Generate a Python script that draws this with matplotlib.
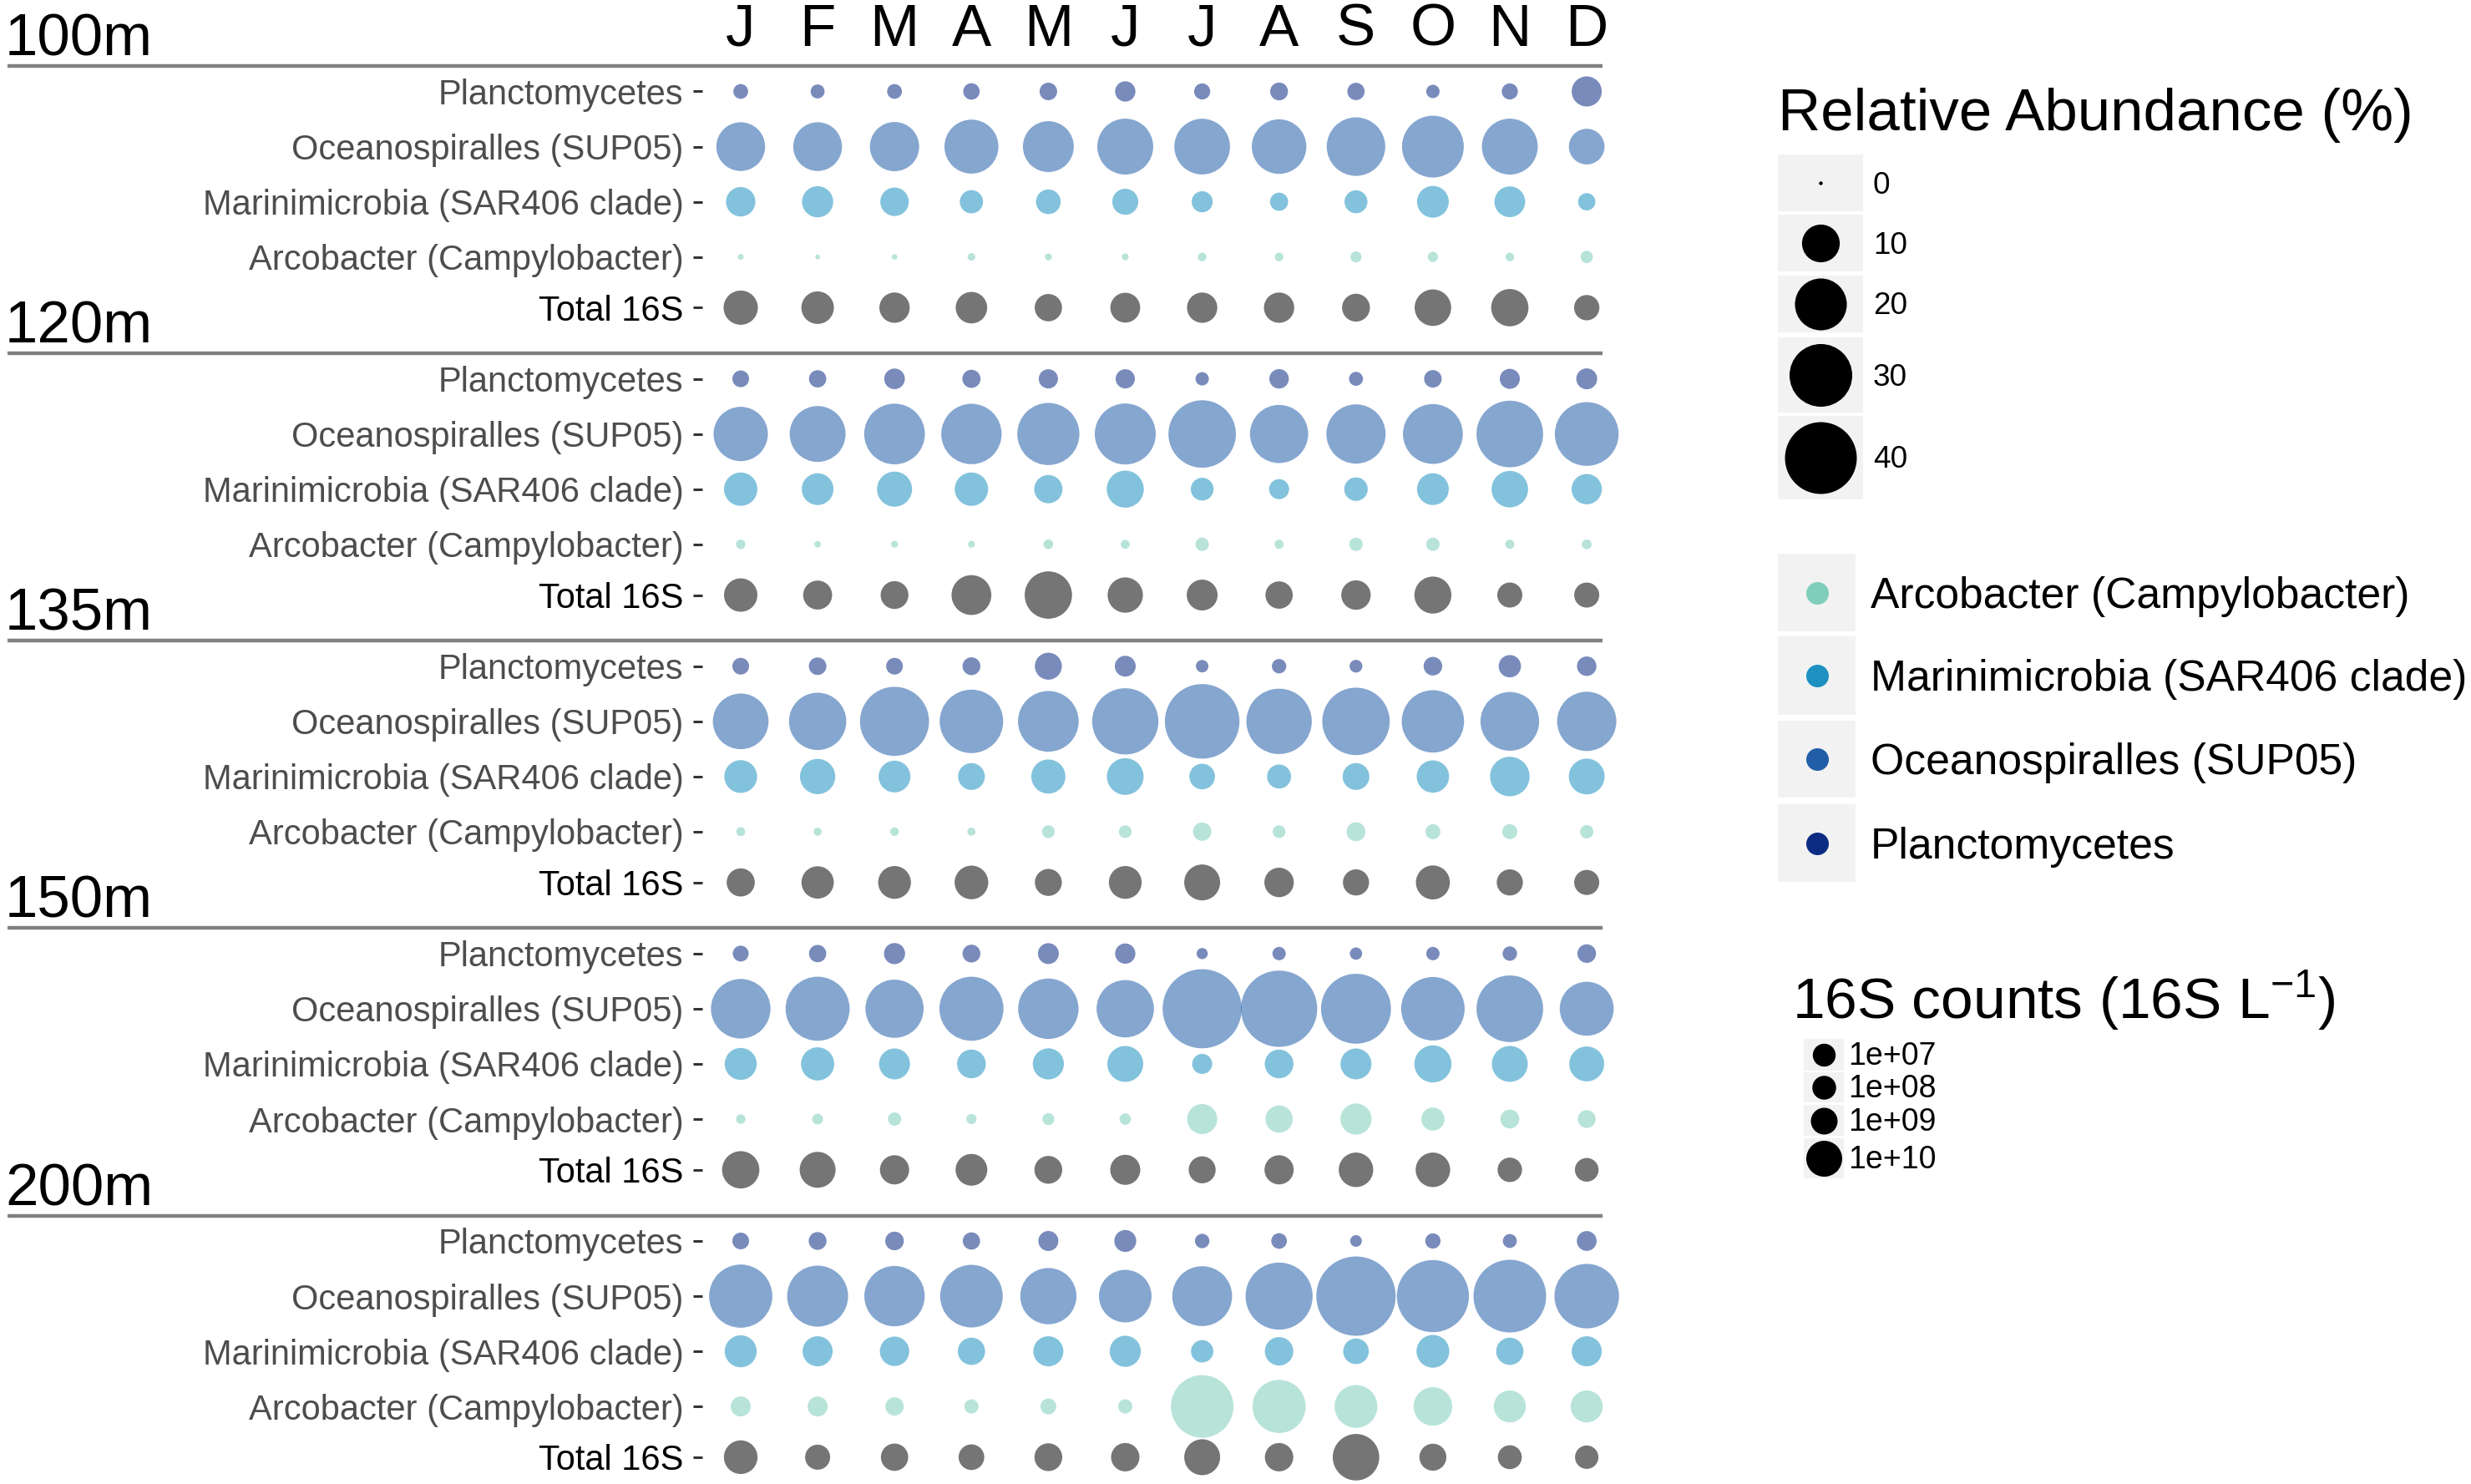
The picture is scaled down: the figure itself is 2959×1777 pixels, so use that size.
import numpy as np
import matplotlib
matplotlib.use('Agg')
import matplotlib.pyplot as plt
from matplotlib.patches import Rectangle
from matplotlib.transforms import blended_transform_factory

# データ
months = ['J', 'F', 'M', 'A', 'M', 'J', 'J', 'A', 'S', 'O', 'N', 'D']
depths = ['100m', '120m', '135m', '150m', '200m']
taxa = ['Planctomycetes', 'Oceanospiralles (SUP05)',
        'Marinimicrobia (SAR406 clade)', 'Arcobacter (Campylobacter)']
taxa_colors = ['#0c2c84', '#225ea8', '#1d91c0', '#7fcdbb']

# 相対存在量 (%)  行 = 深度, 列 = 月
plancto = [
    [1.06, 0.91, 1.06, 1.41, 1.66, 2.38, 1.33, 1.72, 1.60, 0.81, 1.33, 6.0],
    [1.46, 1.6, 2.48, 1.8, 2.08, 2.08, 0.81, 2.15, 0.91, 1.66, 2.31, 2.55],
    [1.46, 1.66, 1.46, 1.72, 4.68, 2.55, 0.67, 1.0, 0.71, 1.92, 2.99, 2.15],
    [1.28, 1.6, 2.62, 1.72, 2.55, 2.38, 0.48, 0.81, 0.64, 0.81, 1.0, 1.92],
    [1.46, 1.72, 1.92, 1.6, 2.3, 2.88, 1.0, 1.23, 0.55, 1.16, 0.91, 2.24],
]
sup05 = [
    [17.5, 17.5, 17.9, 21.8, 19.2, 23.5, 23.3, 22.3, 25.9, 29.1, 23.5, 8.8],
    [22.1, 23.5, 28.0, 27.7, 29.4, 28.3, 35.0, 25.6, 26.6, 27.2, 34.1, 31.1],
    [23.3, 24.8, 36.8, 30.8, 28.0, 33.7, 43.3, 32.8, 35.0, 29.7, 26.1, 26.6],
    [26.9, 31.4, 25.6, 31.4, 27.7, 24.8, 49.0, 45.4, 37.8, 30.8, 34.1, 21.8],
    [30.5, 28.3, 27.7, 29.9, 23.8, 20.6, 27.2, 34.6, 49.3, 40.3, 41.0, 31.9],
]
sar406 = [
    [5.7, 6.5, 5.3, 3.3, 3.8, 4.3, 2.6, 1.8, 3.2, 6.8, 6.3, 1.6],
    [7.6, 6.8, 8.5, 7.6, 5.2, 9.6, 3.15, 2.3, 3.4, 6.8, 9.3, 6.1],
    [7.3, 8.6, 6.8, 4.6, 8.0, 9.4, 4.15, 3.55, 4.6, 7.1, 11.1, 8.9],
    [6.9, 7.5, 6.4, 5.4, 6.5, 8.95, 2.3, 5.4, 6.4, 9.6, 8.95, 8.4],
    [6.9, 6.0, 5.7, 4.8, 6.0, 6.5, 3.0, 5.3, 4.15, 7.3, 4.8, 6.0],
]
arco = [
    [0.04, 0.01, 0.03, 0.13, 0.09, 0.09, 0.21, 0.21, 0.48, 0.37, 0.21, 0.64],
    [0.29, 0.07, 0.09, 0.09, 0.32, 0.24, 0.81, 0.26, 0.81, 0.81, 0.26, 0.32],
    [0.24, 0.17, 0.21, 0.17, 0.71, 0.71, 1.86, 0.71, 2.0, 1.11, 1.11, 0.81],
    [0.29, 0.44, 0.81, 0.37, 0.59, 0.52, 6.0, 4.8, 6.5, 3.26, 2.0, 1.72],
    [2.3, 2.3, 1.86, 0.95, 1.28, 0.95, 29.9, 21.1, 13.2, 10.5, 6.9, 6.9],
]
# 16S counts (16S L-1)
total16s = [
    [7.7e9, 5.6e9, 3.4e9, 4.5e9, 1.3e9, 3.0e9, 3.4e9, 3.4e9, 1.6e9, 10.9e9, 12.2e9, 0.45e9],
    [6.6e9, 2.35e9, 1.58e9, 16.7e9, 34.3e9, 9.1e9, 3.9e9, 1.3e9, 2.7e9, 11.7e9, 0.37e9, 0.37e9],
    [1.78e9, 5.4e9, 5.9e9, 6.9e9, 1.12e9, 5.9e9, 10.0e9, 2.7e9, 0.75e9, 7.35e9, 0.75e9, 0.37e9],
    [12.2e9, 10.0e9, 2.5e9, 4.75e9, 1.58e9, 3.2e9, 1.12e9, 2.5e9, 8.0e9, 8.0e9, 0.22e9, 0.08e9],
    [6.9e9, 0.37e9, 1.3e9, 0.56e9, 1.58e9, 1.94e9, 10.0e9, 1.94e9, 32.0e9, 1.12e9, 0.12e9, 0.05e9],
]
ra_breaks = [0, 10, 20, 30, 40]
count_breaks = [1e7, 1e8, 1e9, 1e10]

W, H, DPI = 2959, 1777, 200
plt.rcParams['font.family'] = ['Liberation Sans', 'DejaVu Sans']
plt.rcParams['mathtext.fontset'] = 'custom'
plt.rcParams['mathtext.rm'] = 'Liberation Sans'
plt.rcParams['mathtext.default'] = 'rm'


# サイズのスケール（直径 px）
def ra_px(v):
    return 4.4 + 81.6 * np.sqrt(np.asarray(v, dtype=float) / 40)


def count_px(v):
    return 26.9 + 16.1 * np.sqrt(np.asarray(v, dtype=float) / 1e10)


def area(px):
    return (np.asarray(px) * 72 / DPI) ** 2


fig = plt.figure(figsize=(W / DPI, H / DPI), dpi=DPI)

# 行の位置
first_row_px = 109.5
row_px = 66.05
panel_gap = 5.21
row_off = [0, 1, 2, 3, 3.92]

ax = fig.add_axes([0.2842, 0, 0.3735, 1])
ax.set_xlim(-0.5, 11.5)
ax.set_ylim((H - first_row_px) / row_px, -first_row_px / row_px)
for s in ax.spines.values():
    s.set_visible(False)
ax.set_xticks([])

x = np.arange(12)
yt, yl = [], []
for p, depth in enumerate(depths):
    base = p * panel_gap
    series = [plancto[p], sup05[p], sar406[p], arco[p]]
    for r, (vals, col) in enumerate(zip(series, taxa_colors)):
        y = base + row_off[r]
        ax.scatter(x, np.full(12, y), s=area(ra_px(vals)), color=col, alpha=0.55,
                   linewidths=0, clip_on=False, zorder=3)
        yt.append(y)
        yl.append(taxa[r])
    y = base + row_off[4]
    ax.scatter(x, np.full(12, y), s=area(count_px(total16s[p])), color='black', alpha=0.54,
               linewidths=0, clip_on=False, zorder=3)
    yt.append(y)
    yl.append('Total 16S')

    # 深度の区切り線とラベル
    line_y = base - 0.46
    tr = blended_transform_factory(fig.transFigure, ax.transData)
    ax.plot([0.003, 0.6486], [line_y, line_y], transform=tr, color='#808080', lw=1.6,
            clip_on=False, solid_capstyle='butt')
    ax.text(0.002, line_y - 0.19, depth, transform=tr, fontsize=25.5, ha='left', va='baseline',
            color='black')

ax.set_yticks(yt)
ax.set_yticklabels(yl)
ax.tick_params(axis='y', length=4.1, width=1.1, color='#333333', pad=4, labelsize=15)
for lab in ax.get_yticklabels():
    lab.set_color('black' if lab.get_text() == 'Total 16S' else '#4d4d4d')

# 月のラベル
for i, m in enumerate(months):
    ax.text(i, -0.83, m, fontsize=25.5, ha='center', va='baseline')

# 凡例（px 座標）
lax = fig.add_axes([0, 0, 1, 1])
lax.set_xlim(0, W)
lax.set_ylim(H, 0)
lax.axis('off')
lax.patch.set_visible(False)

lax.text(2129, 138, 'Relative Abundance (%)', fontsize=25.5, ha='left', va='center')
ra_boxes = [(185, 253), (257, 325), (330, 398), (404, 494), (498, 598)]
for (y0, y1), b in zip(ra_boxes, ra_breaks):
    lax.add_patch(Rectangle((2129, y0), 102, y1 - y0, color='#f2f2f2', lw=0))
    yc = (y0 + y1) / 2
    lax.scatter([2180], [yc], s=area(ra_px(b)), color='black', linewidths=0)
    lax.text(2243, yc + 3, str(b), fontsize=13.3, ha='left', va='center')

col_boxes = [(663, 756), (762, 856), (863, 955), (963, 1056)]
leg_names = taxa[::-1]
leg_cols = taxa_colors[::-1]
for (y0, y1), name, col in zip(col_boxes, leg_names, leg_cols):
    lax.add_patch(Rectangle((2129, y0), 93, y1 - y0, color='#f2f2f2', lw=0))
    yc = (y0 + y1) / 2
    lax.scatter([2176], [yc], s=area(27), color=col, linewidths=0)
    lax.text(2240, yc + 5, name, fontsize=18.6, ha='left', va='center')

lax.text(2146, 1198, r'16S counts (16S L$^{\mathrm{-1}}$)', fontsize=25, ha='left',
         va='center')
cnt_boxes = [(1244, 1282), (1284, 1320), (1323, 1360), (1363, 1411)]
for (y0, y1), b in zip(cnt_boxes, count_breaks):
    lax.add_patch(Rectangle((2160, y0), 48, y1 - y0, color='#f2f2f2', lw=0))
    yc = (y0 + y1) / 2
    lax.scatter([2184], [yc], s=area(count_px(b)), color='black', linewidths=0)
    lax.text(2213, yc + 2, '1e+%02d' % int(round(np.log10(b))), fontsize=13.5, ha='left',
             va='center')

fig.savefig('out.png', dpi=DPI)
